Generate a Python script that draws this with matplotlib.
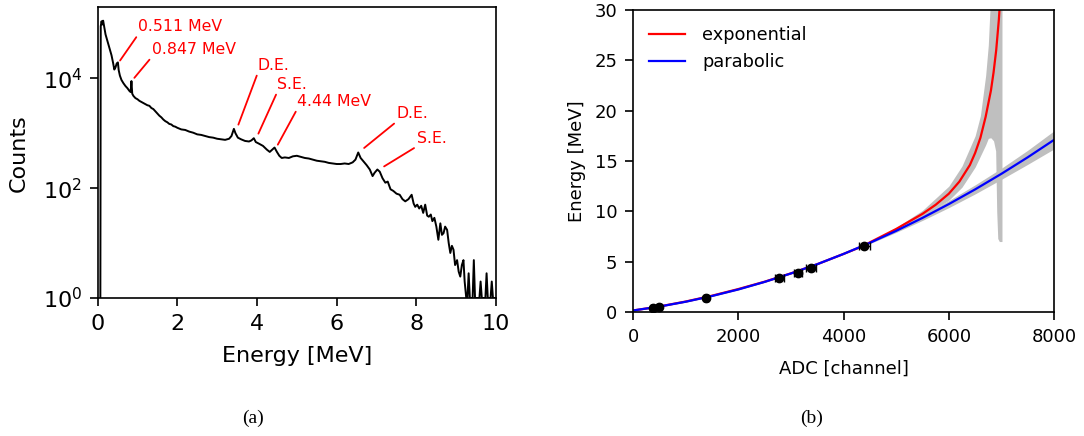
import numpy as np
import matplotlib.pyplot as plt
from matplotlib.ticker import NullLocator

# (a) spectrum: energy [MeV] and log10(counts)
energy = [0.07, 0.08, 0.10, 0.12, 0.14, 0.17, 0.20, 0.24, 0.27, 0.31, 0.35, 0.39, 0.42, 0.45, 0.48, 0.51,
          0.53, 0.56, 0.60, 0.65, 0.70, 0.75, 0.80, 0.83, 0.85, 0.87, 0.90, 0.95, 1.00, 1.05, 1.10, 1.15,
          1.20, 1.25, 1.30, 1.35, 1.40, 1.45, 1.50, 1.55, 1.60, 1.65, 1.70, 1.75, 1.80, 1.85, 1.90, 1.95,
          2.00, 2.10, 2.20, 2.30, 2.40, 2.50, 2.60, 2.70, 2.80, 2.90, 3.00, 3.10, 3.20, 3.30, 3.36, 3.42,
          3.46, 3.52, 3.60, 3.70, 3.80, 3.86, 3.92, 3.97, 4.05, 4.15, 4.25, 4.32, 4.38, 4.44, 4.50, 4.56,
          4.62, 4.70, 4.80, 4.90, 5.00, 5.10, 5.20, 5.30, 5.40, 5.50, 5.60, 5.70, 5.80, 5.90, 6.00, 6.10,
          6.20, 6.30, 6.40, 6.47, 6.54, 6.60, 6.67, 6.75, 6.83, 6.90, 6.95, 7.02, 7.08, 7.15, 7.22, 7.28,
          7.35, 7.42, 7.50, 7.58, 7.65, 7.72, 7.80, 7.88, 7.93, 7.97, 8.02, 8.07, 8.12, 8.17, 8.22, 8.27,
          8.31, 8.36, 8.40, 8.45, 8.50, 8.55, 8.60, 8.64, 8.68, 8.72, 8.77, 8.81, 8.85, 8.89, 8.93, 8.97,
          9.02, 9.06, 9.10, 9.14, 9.18, 9.21, 9.25, 9.28, 9.31, 9.34, 9.41, 9.44, 9.47, 9.58, 9.61, 9.64,
          9.73, 9.76, 9.79, 9.86, 9.89, 9.92, 10.0]
log_counts = [0.0, 4.95, 5.04, 4.98, 5.05, 4.92, 4.80, 4.70, 4.63, 4.52, 4.42, 4.28, 4.16, 4.20, 4.27, 4.29,
              4.15, 4.05, 3.97, 3.91, 3.86, 3.82, 3.77, 3.75, 3.95, 3.72, 3.68, 3.64, 3.62, 3.59, 3.57, 3.55,
              3.53, 3.51, 3.50, 3.46, 3.44, 3.40, 3.36, 3.32, 3.29, 3.25, 3.22, 3.20, 3.17, 3.16, 3.13, 3.12,
              3.10, 3.07, 3.06, 3.03, 3.01, 2.98, 2.97, 2.95, 2.93, 2.92, 2.90, 2.89, 2.88, 2.90, 2.95, 3.08,
              3.00, 2.92, 2.89, 2.86, 2.85, 2.87, 2.91, 2.84, 2.81, 2.77, 2.70, 2.66, 2.70, 2.74, 2.66, 2.59,
              2.55, 2.56, 2.55, 2.58, 2.59, 2.57, 2.55, 2.54, 2.52, 2.50, 2.49, 2.48, 2.46, 2.45, 2.44, 2.44,
              2.45, 2.44, 2.47, 2.52, 2.65, 2.55, 2.49, 2.42, 2.34, 2.22, 2.28, 2.34, 2.30, 2.18, 2.10, 2.12,
              1.98, 1.95, 1.90, 1.88, 1.80, 1.76, 1.80, 1.88, 1.72, 1.66, 1.70, 1.63, 1.68, 1.55, 1.70, 1.50,
              1.48, 1.52, 1.40, 1.46, 1.30, 1.06, 1.36, 1.15, 1.18, 1.30, 1.24, 1.00, 0.82, 0.95, 0.88, 0.60,
              0.69, 0.48, 0.39, 0.60, 0.69, 0.30, 0.0, 0.0, 0.45, 0.0, 0.0, 0.69, 0.0, 0.0, 0.30, 0.0,
              0.0, 0.45, 0.0, 0.0, 0.30, 0.0, 0.0]

# peak labels: end of line (x, log10 y) and text corner (x, log10 y)
ann_labels = ['0.511 MeV', '0.847 MeV', 'D.E.', 'S.E.', '4.44 MeV', 'D.E.', 'S.E.']
ann_x = [0.565, 0.923, 3.533, 4.035, 4.522, 6.688, 7.189]
ann_y = [4.325, 4.009, 3.157, 2.993, 2.792, 2.732, 2.396]
ann_tx = [1.02, 1.36, 4.02, 4.51, 5.01, 7.51, 8.01]
ann_ty = [4.80, 4.39, 4.100, 3.754, 3.443, 3.217, 2.761]

# (b) calibration points
adc = [374, 500, 1387, 2780, 3129, 3377, 4395]
adc_err = [25, 25, 40, 80, 80, 90, 110]
cal_energy = [0.40, 0.51, 1.36, 3.41, 3.90, 4.40, 6.59]

# parabolic fit
par_adc = [0, 500, 1000, 1500, 2000, 2500, 3000, 3500, 4000, 4500, 5000, 5500, 6000, 6500, 7000, 7500, 8000]
par_e = [0.15, 0.54, 1.02, 1.59, 2.24, 2.99, 3.83, 4.75, 5.77, 6.87, 8.06, 9.35, 10.72, 12.18, 13.73, 15.37, 17.10]
par_band = [0.05, 0.05, 0.05, 0.05, 0.05, 0.05, 0.05, 0.05, 0.05, 0.08, 0.15, 0.25, 0.35, 0.45, 0.55, 0.70, 0.90]

# exponential fit
exp_adc = [0, 500, 1000, 1500, 2000, 2500, 3000, 3500, 4000, 4400, 4500, 5000, 5500, 5750, 6000, 6200,
           6400, 6500, 6600, 6700, 6800, 6850, 6900, 6950, 6975]
exp_e = [0.15, 0.55, 1.04, 1.62, 2.28, 3.01, 3.84, 4.75, 5.77, 6.62, 6.92, 8.25, 9.75, 10.65, 11.75, 12.95,
         14.6, 15.8, 17.3, 19.4, 22.0, 23.8, 26.0, 29.0, 31.0]
exp_band_adc = [4400, 5000, 5500, 6000, 6250, 6500, 6600, 6700, 6750, 6790, 6800, 6850, 6890, 6910, 6930,
                6960, 7000, 7010]
exp_band_lo = [6.62, 8.1, 9.5, 11.1, 12.4, 14.4, 15.5, 16.6, 17.25, 17.3, 17.3, 17.0, 16.0, 10.0, 7.3,
               7.0, 7.0, 7.0]
exp_band_hi = [6.62, 8.4, 10.1, 12.5, 14.5, 17.5, 19.5, 23.5, 26.5, 31, 40, 40, 40, 40, 40, 40, 40, 40]

fig = plt.figure(figsize=(10.84, 4.36), dpi=100)

# ---- (a) ----
ax1 = fig.add_axes([0.090, 0.3165, 0.3677, 0.6663])
ax1.semilogy(energy, 10 ** np.array(log_counts), color='k', lw=1.4)
ax1.set_xlim(0, 10)
ax1.set_ylim(1, 10 ** 5.29)
ax1.set_yticks([1, 1e2, 1e4])
ax1.yaxis.set_minor_locator(NullLocator())
ax1.tick_params(labelsize=16, length=5.6, width=1.2, pad=5.6)
for s in ax1.spines.values():
    s.set_linewidth(1.2)
ax1.set_xlabel('Energy [MeV]', fontsize=16, labelpad=9)
ax1.set_ylabel('Counts', fontsize=16, labelpad=10)
for lab, x, y, tx, ty in zip(ann_labels, ann_x, ann_y, ann_tx, ann_ty):
    ax1.annotate(lab, xy=(x, 10 ** y), xytext=(tx, 10 ** ty), color='red', fontsize=11.3,
                 ha='left', va='bottom',
                 arrowprops=dict(arrowstyle='-', color='red', lw=1.3, shrinkA=0, shrinkB=0, relpos=(0, 0)))

# ---- (b) ----
ax2 = fig.add_axes([0.584, 0.2844, 0.3884, 0.6927])
par_e_arr = np.array(par_e)
par_band_arr = np.array(par_band)
ax2.fill_between(par_adc, par_e_arr - par_band_arr, par_e_arr + par_band_arr, color='#bfbfbf', lw=0)
ax2.fill_between(exp_band_adc, exp_band_lo, exp_band_hi, color='#bfbfbf', lw=0)
ax2.plot(exp_adc, exp_e, color='red', lw=1.6, label='exponential')
ax2.plot(par_adc, par_e, color='blue', lw=1.6, label='parabolic')
ax2.errorbar(adc, cal_energy, xerr=adc_err, fmt='o', color='k', ms=6, capsize=3, lw=1, zorder=5)
ax2.set_xlim(0, 8000)
ax2.set_ylim(0, 30)
ax2.set_xticks([0, 2000, 4000, 6000, 8000])
ax2.set_yticks([0, 5, 10, 15, 20, 25, 30])
ax2.tick_params(labelsize=13, length=5.6, width=1.2, pad=5.6)
for s in ax2.spines.values():
    s.set_linewidth(1.2)
ax2.set_xlabel('ADC [channel]', fontsize=13, labelpad=10)
ax2.set_ylabel('Energy [MeV]', fontsize=13, labelpad=6)
ax2.legend(loc='upper left', frameon=False, fontsize=12.8, handletextpad=1.0)

fig.text(253 / 1084, 1 - 418 / 436, '(a)', family='Liberation Serif', fontsize=14, ha='center', va='center')
fig.text(812 / 1084, 1 - 418 / 436, '(b)', family='Liberation Serif', fontsize=14, ha='center', va='center')

fig.savefig('out.png', dpi=100)
